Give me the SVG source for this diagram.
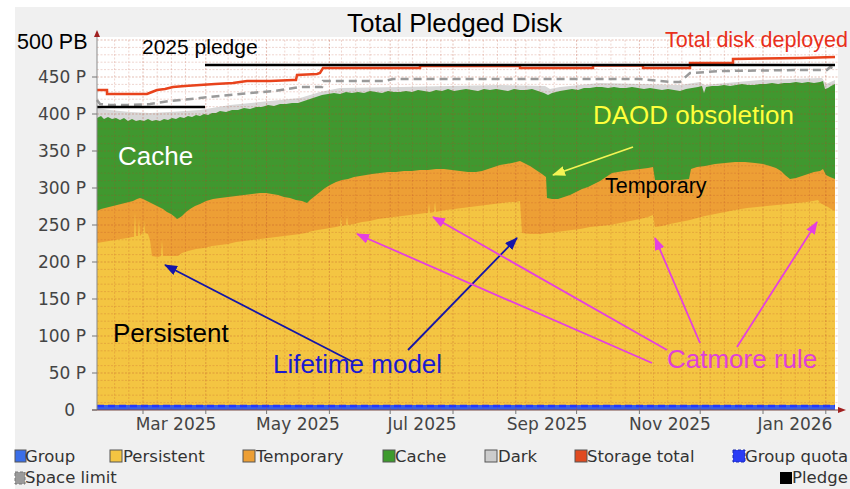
<svg xmlns="http://www.w3.org/2000/svg" width="850" height="489" viewBox="0 0 850 489">
  <style>
    .ax { font-family: "DejaVu Sans", sans-serif; fill: #444; }
    .yl { font-size: 17px; text-anchor: end; }
    .xl { font-size: 17px; text-anchor: middle; }
    .lg { font-family: "DejaVu Sans", sans-serif; font-size: 16.5px; fill: #333; }
    .sw { stroke: #555; stroke-width: 1; }
    .ann { font-family: "Liberation Sans", Arial, sans-serif; }
    .gmin { fill: none; stroke: #b4462a; stroke-opacity: 0.22; stroke-width: 1; stroke-dasharray: 2 1.5; }
    .gmaj { fill: none; stroke: #b4462a; stroke-opacity: 0.35; stroke-width: 1; stroke-dasharray: 2 1.5; }
    .arr { fill: none; stroke-width: 1.8; }
  </style>
  <defs>
    <marker id="hBlue" markerUnits="userSpaceOnUse" markerWidth="13" markerHeight="10" refX="12" refY="5" orient="auto">
      <path d="M0,0 L13,5 L0,10 Z" fill="#1515a8"/>
    </marker>
    <marker id="hMag" markerUnits="userSpaceOnUse" markerWidth="13" markerHeight="10" refX="12" refY="5" orient="auto">
      <path d="M0,0 L13,5 L0,10 Z" fill="#e53fe0"/>
    </marker>
    <marker id="hYel" markerUnits="userSpaceOnUse" markerWidth="13" markerHeight="10" refX="12" refY="5" orient="auto">
      <path d="M0,0 L13,5 L0,10 Z" fill="#f4f455"/>
    </marker>
  </defs>

  <!-- page and plot background -->
  <rect x="0" y="0" width="850" height="489" fill="#ffffff"/>
  <rect x="15" y="7" width="835" height="482" fill="#f0f0f0"/>
  <rect x="97" y="37" width="741" height="373" fill="#ffffff"/>

  <!-- stacked areas -->
  <g id="area-dark">
    <polygon fill="#d8d8d8" points="97,108 110,110 130,112 150,113 170,112 200,110 230,105 260,102 300,98 320,92 340,88 400,87 500,85 545,86 550,89 560,87 600,83 680,85 700,82 704,85 760,80 822,78 826,84 835,80 835,410 97,410"/>
  </g>
  <g id="area-cache">
    <polygon fill="#40982f" points="97,118 101,116 104,119 108,117 112,119 116,118 120,120 124,118 128,121 132,119 136,121 140,120 144,121 148,119 152,121 156,120 160,121 164,119 168,120 172,118 176,119 180,117 184,118 188,116 192,117 196,115 200,116 204,114 208,115 212,113 216,113 220,111 226,112 232,110 238,110 244,108 250,109 256,107 262,107 268,105 274,106 280,104 286,104 292,103 298,103 304,101 310,99 316,97 322,95 328,94 334,93 340,94 346,92 352,93 358,92 364,93 370,91 376,92 382,93 388,91 394,92 400,92 406,91 412,92 418,90 424,91 430,92 436,90 442,91 448,89 454,91 460,90 466,89 472,90 478,91 484,89 490,90 496,89 502,90 508,91 514,89 520,90 526,90 532,89 538,91 544,93 548,95 552,93 556,92 560,91 566,90 572,89 578,90 584,88 590,88 596,87 602,87 608,88 614,87 620,88 626,88 632,87 638,88 644,89 650,88 656,89 662,90 668,89 674,90 680,91 686,89 692,88 698,87 702,86 704,93 706,87 712,86 718,86 724,85 730,86 736,85 742,84 748,85 754,85 760,84 766,84 772,83 778,84 784,83 790,83 796,82 802,83 808,82 814,83 820,82 823,81 825,89 828,88 831,86 835,84 835,410 97,410"/>
  </g>
  <g id="area-temporary">
    <polygon fill="#ed9f35" points="97,211 101,209 105,208 109,207 113,206 117,205 121,204 125,203 129,202 133,201 137,199 140,198 143,199 147,201 151,203 155,205 159,207 163,209 167,212 171,214 175,217 177,219 179,218 182,216 186,212 190,209 195,206 200,204 206,201 213,199 220,198 228,197 236,196 244,195 252,194 260,193 266,193 272,194 278,195 284,197 290,198 296,200 302,201 307,203 310,200 315,196 320,192 325,188 330,185 336,182 342,180 348,179 354,177 360,176 366,175 372,174 380,173 388,172 396,172 404,171 412,171 420,170 428,170 436,169 444,169 452,170 460,171 468,172 476,172 482,171 488,169 494,167 500,165 506,164 512,163 516,162 520,161 524,163 530,166 536,170 542,174 546,177 547,198 552,199 558,199 564,197 570,195 576,192 582,189 588,187 594,184 600,181 606,177 612,173 618,172 624,171 632,170 640,169 648,168 653,167 655,180 662,180 670,180 680,180 689,179 691,169 697,167 705,166 715,164 725,163 735,162 745,162 755,163 763,164 770,166 776,168 781,171 785,175 790,179 796,178 802,176 808,174 814,172 820,171 823,169 826,175 830,177 835,179 835,410 97,410"/>
  </g>
  <g id="area-persistent">
    <polygon fill="#f4c542" points="97,243 103,242 109,241 115,240 121,239 127,238 132,237 134,237 135,212 136,236 138,236 139,218 140,236 143,232 144,220 145,233 148,234 150,240 152,256 158,257 161,256 162,240 163,256 170,256 178,256 182,253 188,251 196,249 204,248 212,246 220,245 228,244 236,242 244,241 252,240 260,239 268,238 276,237 284,236 292,235 300,234 306,233 312,231 318,230 324,229 330,228 336,227 340,226 341,216 342,226 346,225 347,215 348,225 354,224 362,222 370,221 378,219 386,218 394,217 402,216 410,215 418,214 426,213 428,213 429,203 430,213 434,212 435,201 436,212 440,211 446,210 454,209 462,208 470,207 478,206 486,205 494,204 502,203 510,202 516,202 520,201 522,233 530,234 540,234 548,233 556,232 564,231 572,230 580,229 590,227 600,226 610,225 620,223 630,221 640,219 648,217 653,215 655,227 662,226 670,224 680,222 690,220 697,218 705,216 715,214 725,212 735,210 747,208 757,207 767,206 777,205 787,204 797,203 807,202 813,201 818,200 820,203 824,205 828,207 831,209 835,211 835,410 97,410"/>
  </g>
  <g id="area-group">
    <rect x="97" y="405" width="738" height="5" fill="#3a5ee6"/>
    <line x1="97" y1="406" x2="835" y2="406" stroke="#2238ff" stroke-width="2.5" stroke-dasharray="7 4"/>
  </g>

  <!-- grid -->
  <g id="grid">
    <path class="gmin" d="M97 402.6H838M97 395.2H838M97 387.8H838M97 380.4H838M97 365.6H838M97 358.2H838M97 350.8H838M97 343.4H838M97 328.6H838M97 321.2H838M97 313.8H838M97 306.4H838M97 291.6H838M97 284.2H838M97 276.8H838M97 269.4H838M97 254.6H838M97 247.2H838M97 239.8H838M97 232.4H838M97 217.6H838M97 210.2H838M97 202.8H838M97 195.4H838M97 180.6H838M97 173.2H838M97 165.8H838M97 158.4H838M97 143.6H838M97 136.2H838M97 128.8H838M97 121.4H838M97 106.6H838M97 99.2H838M97 91.8H838M97 84.4H838M97 69.6H838M97 62.2H838M97 54.8H838M97 47.4H838"/>
    <path class="gmaj" d="M97 373H838M97 336H838M97 299H838M97 262H838M97 225H838M97 188H838M97 151H838M97 114H838M97 77H838M97 40H838"/>
    <path class="gmin" d="M114.6 40V410M128.8 40V410M157.2 40V410M171.4 40V410M185.5 40V410M228.1 40V410M242.3 40V410M256.4 40V410M284.8 40V410M299 40V410M313.2 40V410M341.5 40V410M355.7 40V410M369.9 40V410M398.2 40V410M412.4 40V410M426.6 40V410M440.8 40V410M469.1 40V410M483.3 40V410M497.5 40V410M525.9 40V410M540 40V410M554.2 40V410M596.8 40V410M610.9 40V410M625.1 40V410M653.5 40V410M667.7 40V410M681.8 40V410M710.2 40V410M724.4 40V410M738.6 40V410M781.1 40V410M795.3 40V410M809.5 40V410"/>
    <path class="gmaj" d="M143 40V410M205.8 40V410M266.6 40V410M329.4 40V410M390.2 40V410M453 40V410M515.8 40V410M576.6 40V410M639.4 40V410M700.2 40V410M763 40V410M825.8 40V410"/>
  </g>

  <!-- series lines -->
  <g id="series-lines">
    <polyline id="space-limit" fill="none" stroke="#9a9a9a" stroke-width="2.5" stroke-dasharray="8 5" points="97,100 100,104 110,105 130,105 150,104 170,101 200,98 230,95 250,93 275,91 300,87 322,87 323,81 385,81 393,79 640,79 660,81 673,82 680,82 690,73 723,71 800,70 827,70 830,67 835,69"/>
    <polyline id="storage-total" fill="none" stroke="#e8431c" stroke-width="2.5" points="97,90 107,90 107,94 147,94 152,92 157,90 165,89 173,87 185,86 200,85 215,84 233,83 240,82 247,81 270,81 293,80 296,80 297,75 317,74 320,73 323,68 420,68 420,66 520,66 520,68 593,68 593,65.5 643,65.5 643,68 690,68 690,63 733,63 733,59 800,58 835,57"/>
    <line id="pledge-2024" x1="97" y1="107" x2="205" y2="107" stroke="#000" stroke-width="2.5"/>
    <line id="pledge-2025" x1="205" y1="65" x2="835" y2="65" stroke="#000" stroke-width="2.5"/>
  </g>

  <!-- axes -->
  <g id="axes">
    <line x1="97" y1="36" x2="97" y2="410" stroke="#8a8a8a" stroke-width="1"/>
    <line x1="92" y1="410" x2="839" y2="410" stroke="#7a4a44" stroke-width="1"/>
    <path d="M94,37 L97,30 L100,37 Z" fill="#a02020"/>
    <path d="M838,407 L846,410 L838,413 Z" fill="#a02020"/>
    <path stroke="#777" stroke-width="1" d="M92 410H97M92 373H97M92 336H97M92 299H97M92 262H97M92 225H97M92 188H97M92 151H97M92 114H97M92 77H97M143 410V414M205.8 410V414M266.6 410V414M329.4 410V414M390.2 410V414M453 410V414M515.8 410V414M576.6 410V414M639.4 410V414M700.2 410V414M763 410V414M825.8 410V414"/>
    <text class="ax yl" x="86" y="83">450 P</text>
    <text class="ax yl" x="86" y="120">400 P</text>
    <text class="ax yl" x="86" y="157">350 P</text>
    <text class="ax yl" x="86" y="194">300 P</text>
    <text class="ax yl" x="86" y="231">250 P</text>
    <text class="ax yl" x="86" y="268">200 P</text>
    <text class="ax yl" x="86" y="305">150 P</text>
    <text class="ax yl" x="86" y="342">100 P</text>
    <text class="ax yl" x="86" y="379">50 P</text>
    <text class="ax yl" x="75" y="416">0</text>
    <text class="ax xl" x="176" y="430">Mar 2025</text>
    <text class="ax xl" x="298" y="430">May 2025</text>
    <text class="ax xl" x="422" y="430">Jul 2025</text>
    <text class="ax xl" x="547" y="430">Sep 2025</text>
    <text class="ax xl" x="670" y="430">Nov 2025</text>
    <text class="ax xl" x="795" y="430">Jan 2026</text>
  </g>

  <!-- legend -->
  <g id="legend">
    <rect class="sw" x="15" y="450" width="11" height="12" fill="#3a6ee8"/>
    <text class="lg" x="25" y="462">Group</text>
    <rect class="sw" x="110" y="450" width="12" height="12" fill="#f4c542"/>
    <text class="lg" x="123" y="462">Persistent</text>
    <rect class="sw" x="243" y="450" width="12" height="12" fill="#ed9f35"/>
    <text class="lg" x="256" y="462">Temporary</text>
    <rect class="sw" x="383" y="450" width="12" height="12" fill="#3d9a2d"/>
    <text class="lg" x="395" y="462">Cache</text>
    <rect class="sw" x="485" y="450" width="12" height="12" fill="#cccccc"/>
    <text class="lg" x="498" y="462">Dark</text>
    <rect class="sw" x="575" y="450" width="12" height="12" fill="#e04a20"/>
    <text class="lg" x="587" y="462">Storage total</text>
    <rect x="733" y="450" width="12" height="12" fill="#2a3cf5" stroke="#1a2ab0" stroke-dasharray="3 2"/>
    <text class="lg" x="745" y="462">Group quota</text>
    <rect x="15" y="472" width="10" height="12" fill="#9a9a9a" stroke="#777" stroke-dasharray="3 2"/>
    <text class="lg" x="25" y="483">Space limit</text>
    <rect x="780" y="472" width="12" height="12" fill="#000"/>
    <text class="lg" x="792" y="483">Pledge</text>
  </g>

  <!-- titles and annotations -->
  <g id="title"><text class="ann" x="347" y="32" font-size="26" fill="#000">Total Pledged Disk</text></g>
  <g id="label-500pb"><text class="ann" x="17" y="49" font-size="21.5" fill="#000">500 PB</text></g>
  <g id="label-pledge"><text class="ann" x="142" y="54" font-size="21" fill="#000">2025 pledge</text></g>
  <g id="label-deployed"><text class="ann" x="665" y="47" font-size="21.5" fill="#e8301c">Total disk deployed</text></g>
  <g id="label-daod"><text class="ann" x="593" y="124" font-size="26" fill="#ffff3c">DAOD obsoletion</text></g>
  <g id="label-cache"><text class="ann" x="118" y="165" font-size="26" fill="#ffffff">Cache</text></g>
  <g id="label-temporary"><text class="ann" x="605" y="193" font-size="21.5" fill="#000">Temporary</text></g>
  <g id="label-persistent"><text class="ann" x="113" y="342" font-size="26" fill="#000">Persistent</text></g>
  <g id="label-lifetime"><text class="ann" x="273" y="373" font-size="26" fill="#1a1ad0">Lifetime model</text></g>
  <g id="label-catmore"><text class="ann" x="667" y="368" font-size="26" fill="#e040d8">Catmore rule</text></g>

  <!-- annotation arrows -->
  <g id="connectors">
    <line class="arr" x1="353" y1="362" x2="165" y2="265" stroke="#1515a8" marker-end="url(#hBlue)"/>
    <line class="arr" x1="408" y1="350" x2="517" y2="238" stroke="#1515a8" marker-end="url(#hBlue)"/>
    <line class="arr" x1="652" y1="363" x2="357" y2="234" stroke="#e53fe0" marker-end="url(#hMag)"/>
    <line class="arr" x1="667" y1="350" x2="433" y2="217" stroke="#e53fe0" marker-end="url(#hMag)"/>
    <line class="arr" x1="700" y1="343" x2="655" y2="238" stroke="#e53fe0" marker-end="url(#hMag)"/>
    <line class="arr" x1="737" y1="347" x2="817" y2="222" stroke="#e53fe0" marker-end="url(#hMag)"/>
    <line class="arr" x1="633" y1="147" x2="553" y2="175" stroke="#f4f455" marker-end="url(#hYel)"/>
  </g>
</svg>
